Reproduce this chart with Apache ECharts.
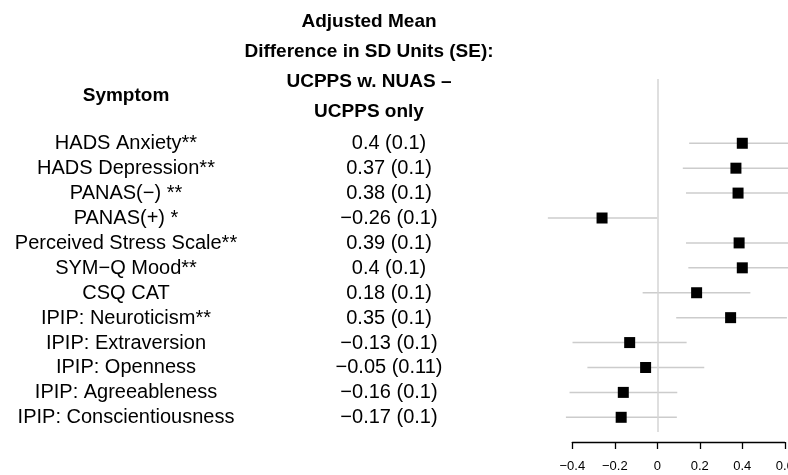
<!DOCTYPE html>
<html>
<head>
<meta charset="utf-8">
<script src="https://cdn.jsdelivr.net/npm/echarts@6/dist/echarts.min.js"></script>
<style>
  html, body { margin: 0; padding: 0; background: #fff; }
  #canvas { width: 788px; height: 475px; }
</style>
</head>
<body>
<div id="canvas"></div>
<script>
var symptoms = ['HADS Anxiety**', 'HADS Depression**', 'PANAS(\u2212) **', 'PANAS(+) *',
    'Perceived Stress Scale**', 'SYM\u2212Q Mood**', 'CSQ CAT', 'IPIP: Neuroticism**',
    'IPIP: Extraversion', 'IPIP: Openness', 'IPIP: Agreeableness', 'IPIP: Conscientiousness'];
var valueLabels = ['0.4 (0.1)', '0.37 (0.1)', '0.38 (0.1)', '\u22120.26 (0.1)', '0.39 (0.1)', '0.4 (0.1)',
    '0.18 (0.1)', '0.35 (0.1)', '\u22120.13 (0.1)', '\u22120.05 (0.11)', '\u22120.16 (0.1)', '\u22120.17 (0.1)'];
var estimates = [0.40, 0.37, 0.38, -0.26, 0.385, 0.40, 0.185, 0.345, -0.13, -0.055, -0.16, -0.17];
var lower = [0.15, 0.12, 0.135, -0.515, 0.135, 0.146, -0.069, 0.089, -0.399, -0.329, -0.413, -0.43];
var upper = [0.65, 0.625, 0.63, 0.0, 0.64, 0.65, 0.438, 0.61, 0.138, 0.221, 0.094, 0.092];
var xTicks = { min: -0.4, max: 0.6, interval: 0.2 };
var headerLines = ['Adjusted Mean', 'Difference in SD Units (SE):', 'UCPPS w. NUAS \u2013', 'UCPPS only'];

var FONT = "'Liberation Sans', Arial, Helvetica, sans-serif";

var myChart = echarts.init(document.getElementById('canvas'));

var ciData = estimates.map(function (e, i) {
    return [e, i, lower[i], upper[i]];
});
var rowData = symptoms.map(function (s, i) {
    return [0, i];
});

// header text
var graphics = headerLines.map(function (t, i) {
    return {
        type: 'text', x: 369, y: 21.5 + i * 30.1,
        style: { text: t, font: 'bold 19px ' + FONT, fill: '#000', textAlign: 'center', textVerticalAlign: 'middle' }
    };
});
graphics.push({
    type: 'text', x: 126, y: 95.5,
    style: { text: 'Symptom', font: 'bold 19px ' + FONT, fill: '#000', textAlign: 'center', textVerticalAlign: 'middle' }
});

option = {
    animation: false,
    backgroundColor: '#fff',
    graphic: graphics,
    grid: { left: 572.3, right: 3.2, top: 79, bottom: 43, outerBoundsMode: 'none', containLabel: false },
    xAxis: {
        type: 'value',
        position: 'bottom',
        min: xTicks.min,
        max: xTicks.max,
        interval: xTicks.interval,
        offset: 10,
        splitLine: { show: false },
        axisLine: { show: true, onZero: false, lineStyle: { color: '#000', width: 1.3 } },
        axisTick: { show: true, length: 7, lineStyle: { color: '#000', width: 1.3 } },
        axisLabel: {
            color: '#000', fontSize: 13, fontFamily: FONT, margin: 18,
            formatter: function (v) {
                var s = Math.abs(v) < 1e-9 ? '0' : String(+v.toFixed(1));
                return s.replace('-', '\u2212');
            }
        }
    },
    yAxis: { type: 'value', inverse: true, min: -2.58, max: 11.59, show: false },
    series: [{
        type: 'custom',
        clip: false,
        data: ciData,
        encode: { x: [0, 2, 3], y: 1 },
        renderItem: function (params, api) {
            var row = api.value(1);
            var p0 = api.coord([api.value(2), row]);
            var p1 = api.coord([api.value(3), row]);
            var c = api.coord([api.value(0), row]);
            return {
                type: 'group',
                children: [{
                    type: 'line',
                    shape: { x1: p0[0], y1: p0[1], x2: p1[0], y2: p1[1] },
                    style: { stroke: '#cccccc', lineWidth: 1.5 }
                }, {
                    type: 'rect',
                    shape: { x: c[0] - 5.5, y: c[1] - 5.5, width: 11, height: 11 },
                    style: { fill: '#000' }
                }]
            };
        },
        markLine: {
            silent: true,
            symbol: 'none',
            label: { show: false },
            lineStyle: { color: '#d4d4d4', width: 1.5, type: 'solid' },
            data: [{ xAxis: 0 }]
        }
    }, {
        type: 'custom',
        clip: false,
        data: rowData,
        encode: { x: 0, y: 1 },
        renderItem: function (params, api) {
            var i = api.value(1);
            var y = api.coord([0, i])[1] + 0.5;
            return {
                type: 'group',
                children: [{
                    type: 'text', x: 126, y: y,
                    style: { text: symptoms[i], font: '20px ' + FONT, fill: '#000', textAlign: 'center', textVerticalAlign: 'middle' }
                }, {
                    type: 'text', x: 389, y: y,
                    style: { text: valueLabels[i], font: '20px ' + FONT, fill: '#000', textAlign: 'center', textVerticalAlign: 'middle' }
                }]
            };
        }
    }]
};

myChart.setOption(option);
window.onresize = myChart.resize;
</script>
</body>
</html>
